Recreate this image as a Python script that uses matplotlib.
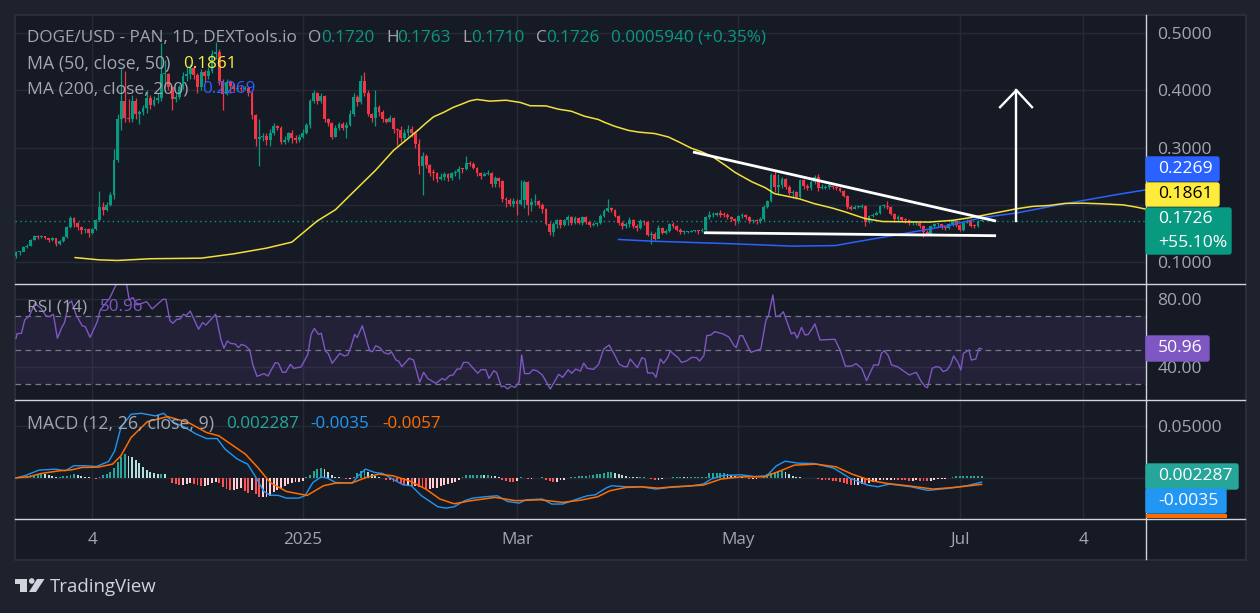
import matplotlib
matplotlib.use("Agg")
import matplotlib.pyplot as plt
from matplotlib.patches import Rectangle, FancyBboxPatch, Polygon, Circle

W, H = 1260, 613

# daily candles, first open read separately, every other open is the previous close
first_open = 0.110
closes = [
    .1175, .118, .126, .129, .139, .145, .144, .145, .1425, .139,
    .142, .131, .137, .144, .161, .1775, .168, .161, .1565, .158,
    .151, .158, .173, .197, .1915, .200, .218, .278, .350, .381,
    .352, .350, .381, .359, .362, .369, .386, .375, .383, .387,
    .428, .428, .405, .385, .388, .405, .425, .428, .438, .427,
    .405, .431, .425, .434, .463, .467, .417, .394, .415, .408,
    .402, .404, .402, .404, .395, .356, .315, .318, .320, .314,
    .326, .338, .335, .310, .313, .325, .316, .313, .319, .325,
    .339, .381, .395, .381, .390, .350, .343, .319, .335, .341,
    .335, .340, .359, .388, .379, .416, .396, .358, .352, .370,
    .362, .349, .345, .352, .332, .330, .317, .325, .333, .325,
    .307, .267, .285, .270, .256, .255, .246, .248, .254, .247,
    .255, .257, .263, .262, .273, .272, .265, .256, .250, .254,
    .256, .237, .247, .241, .210, .208, .202, .206, .201, .208,
    .240, .199, .205, .207, .199, .193, .167, .152, .166, .173,
    .165, .173, .178, .169, .177, .169, .178, .170, .165, .167,
    .169, .181, .190, .195, .191, .180, .168, .164, .166, .174,
    .164, .160, .172, .170, .148, .150, .141, .160, .151, .154,
    .167, .163, .157, .152, .152, .153, .155, .155, .154, .157,
    .179, .182, .183, .185, .183, .182, .178, .175, .171, .180,
    .182, .179, .172, .172, .171, .175, .197, .206, .252, .231,
    .235, .245, .231, .220, .222, .214, .243, .233, .230, .240,
    .248, .229, .230, .232, .232, .231, .230, .225, .216, .196,
    .193, .196, .197, .198, .170, .181, .182, .186, .198, .198,
    .196, .184, .175, .179, .174, .173, .168, .168, .168, .163,
    .153, .150, .164, .166, .166, .161, .160, .167, .172, .165,
    .157, .169, .172, .164, .163, .172, .1726,
]
highs = [
    .119, .120, .128, .131, .141, .147, .147, .148, .146, .142,
    .144, .143, .139, .146, .163, .180, .178, .170, .163, .160,
    .160, .160, .175, .224, .205, .205, .222, .297, .358, .438,
    .434, .385, .392, .386, .366, .375, .400, .392, .390, .395,
    .482, .453, .430, .407, .395, .410, .432, .440, .445, .442,
    .430, .437, .436, .440, .470, .485, .472, .420, .420, .418,
    .412, .410, .408, .408, .408, .398, .358, .349, .325, .326,
    .332, .342, .340, .338, .320, .328, .330, .322, .324, .332,
    .342, .385, .400, .397, .395, .392, .352, .345, .340, .345,
    .345, .345, .365, .395, .392, .426, .432, .400, .360, .401,
    .375, .366, .352, .356, .354, .335, .338, .332, .340, .338,
    .327, .315, .292, .288, .272, .262, .258, .256, .258, .256,
    .258, .260, .268, .265, .286, .276, .275, .266, .258, .257,
    .260, .258, .250, .248, .244, .214, .212, .212, .210, .243,
    .243, .242, .212, .219, .209, .204, .195, .170, .170, .176,
    .176, .176, .182, .180, .180, .178, .181, .180, .172, .170,
    .170, .184, .193, .210, .197, .193, .182, .172, .170, .178,
    .176, .166, .175, .174, .172, .155, .152, .165, .162, .158,
    .169, .170, .165, .160, .156, .155, .157, .157, .157, .160,
    .180, .189, .187, .187, .191, .187, .185, .180, .177, .183,
    .185, .184, .180, .175, .175, .178, .199, .208, .256, .260,
    .253, .248, .247, .234, .226, .224, .245, .245, .236, .243,
    .252, .254, .236, .235, .236, .234, .233, .232, .226, .218,
    .200, .199, .200, .201, .200, .183, .185, .190, .199, .201,
    .207, .198, .186, .182, .179, .177, .175, .170, .170, .170,
    .165, .156, .165, .168, .168, .167, .163, .168, .174, .174,
    .167, .170, .175, .174, .166, .173, .1763,
]
lows = [
    .108, .113, .120, .125, .129, .138, .141, .142, .140, .136,
    .137, .129, .130, .135, .143, .159, .161, .156, .150, .151,
    .144, .149, .156, .171, .182, .190, .198, .210, .275, .330,
    .345, .345, .345, .349, .341, .357, .360, .368, .372, .378,
    .382, .405, .400, .366, .380, .385, .402, .416, .420, .420,
    .395, .400, .415, .420, .430, .455, .410, .366, .392, .395,
    .398, .398, .398, .400, .390, .350, .302, .267, .312, .305,
    .302, .322, .330, .306, .306, .310, .308, .308, .310, .316,
    .323, .335, .378, .376, .378, .345, .338, .315, .318, .330,
    .330, .317, .338, .355, .372, .376, .390, .355, .345, .337,
    .355, .345, .342, .344, .325, .305, .310, .312, .320, .318,
    .300, .253, .218, .265, .250, .244, .240, .243, .243, .241,
    .244, .251, .245, .256, .260, .268, .262, .250, .245, .250,
    .252, .232, .232, .231, .205, .197, .198, .197, .182, .200,
    .195, .183, .190, .200, .195, .186, .165, .148, .145, .160,
    .160, .163, .165, .165, .166, .166, .165, .167, .162, .163,
    .163, .166, .178, .187, .187, .178, .165, .158, .160, .162,
    .160, .155, .158, .165, .145, .131, .138, .144, .149, .150,
    .153, .160, .155, .150, .150, .151, .152, .153, .150, .152,
    .155, .175, .178, .181, .178, .178, .175, .172, .165, .168,
    .177, .175, .168, .168, .167, .168, .173, .194, .205, .222,
    .218, .230, .228, .218, .212, .210, .212, .228, .226, .226,
    .236, .225, .227, .228, .228, .228, .226, .222, .214, .193,
    .191, .192, .194, .195, .164, .168, .178, .183, .184, .195,
    .193, .182, .170, .172, .172, .168, .165, .165, .165, .160,
    .144, .147, .148, .162, .162, .158, .156, .158, .164, .162,
    .155, .155, .168, .161, .160, .162, .1710,
]
assert len(closes) == len(highs) == len(lows) == 267

ma50_days = [16.3, 23, 28, 37, 51, 60, 69, 76, 83, 88, 92, 99, 104, 110.7, 113, 115, 118, 120.4, 122.7, 125, 127,
             130.5, 135, 139, 141.6, 146, 149.4, 153, 156.6, 160.4, 162.3, 165, 168.7, 171.5, 176, 179.7, 182.6,
             186, 189, 192, 195.4, 198, 200, 202.8, 206.4, 209, 215.7, 220, 224.9, 228.6, 231.3, 234, 238.7, 244.2,
             251.6, 258, 262.7, 266.3, 271, 275.5, 280, 284.7, 289, 294, 298.6, 305, 308.7, 312]
ma50_values = [.108, .104, .103, .106, .107, .1146, .1245, .135, .172, .1915, .2166, .26, .295, .330, .343, .3535,
               .362, .370, .3756, .3815, .384, .381, .3826, .3786, .373, .3727, .367, .3634, .3547, .349, .3436,
               .337, .330, .327, .3244, .3185, .3098, .299, .2923, .2836, .269, .257, .2498, .24, .23, .2195,
               .2107, .202, .1944, .1874, .1816, .176, .171, .1705, .170, .173, .1775, .1816, .1874, .193, .1973,
               .199, .2026, .203, .202, .200, .196, .1915]
assert len(ma50_days) == len(ma50_values)
ma200_days = [166, 175, 198, 213.8, 225.7, 231, 243, 257, 266, 275.5, 289, 303, 312]
ma200_values = [.1396, .1367, .132, .128, .129, .135, .148, .164, .1775, .1857, .202, .2177, .227]

rsi_days = [0, .3, 1.5, 2.4, 3.7, 5.2, 6.9, 8.2, 9.1, 10.3, 11.4, 12.5, 13.4, 14.5, 15.3, 16.5, 18.2, 19.1, 20.4,
            22.4, 23.2, 25.8, 28.1, 30.3, 31.2, 32.2, 33.4, 36, 37.5, 40.5, 41.3, 42.4, 43.2, 44.3, 45.2, 46.1,
            46.9, 48, 50.3, 51.4, 52.3, 55, 56.5, 57.3, 58.2, 59.1, 60.4, 61.3, 62.1, 63.2, 64.4, 65.2, 66.4,
            68.3, 69.4, 71.4, 72.3, 73.4, 74.3, 75.6, 76.5, 78.5, 80.4, 81.3, 82.2, 83.3, 84.1, 85.2, 86, 87.1,
            89.2, 90.5, 91.4, 92.3, 93.3, 94, 95.4, 97.4, 98.2, 99.1, 100.2, 101.4, 102.7, 103.4, 104.7, 105.4,
            106.3, 108.3, 109.5, 111.2, 112.3, 113.4, 115.7, 117.4, 118.2, 119.4, 120.4, 121.5, 122.4, 123.3,
            124.5, 127.2, 128.1, 129.4, 130.3, 131.6, 132.4, 133.7, 134.5, 135.4, 136.5, 137.4, 138.6, 139.3,
            140.1, 141.4, 142.4, 143.5, 145, 147.2, 149.5, 150.6, 152.1, 153.1, 154.2, 155.5, 156.4, 157.4,
            159.1, 160.5, 161.9, 163.4, 164.7, 166.2, 167.5, 168.4, 169.2, 171.2, 172.4, 173.3, 174, 175.5,
            176.3, 177.5, 178.4, 179.5, 180.3, 181.4, 182.4, 183.3, 184.7, 186.2, 187.5, 188.3, 189.5, 190.3,
            191.4, 192.5, 194.8, 196.4, 197.7, 198.4, 199.4, 200.2, 202.4, 205.2, 206.6, 207.3, 208.5, 209.3,
            210.4, 211.4, 213.6, 214.4, 215.2, 216.4, 217.4, 218.3, 220.1, 221.5, 225.6, 227, 228.5, 230.3,
            231.4, 233, 234.3, 236.3, 237.6, 238.4, 239.2, 240.3, 241.2, 242.8, 246.1, 248, 249.4, 250.5, 251.1,
            252.4, 253.4, 254.5, 255.4, 256.5, 257.5, 258.3, 259.5, 260.3, 261, 262.5, 263.2, 264.4, 265.3, 266]
rsi_values = [57.1, 59.8, 60, 67.8, 70.4, 77.6, 74.7, 70.4, 69.8, 71.2, 57.1, 62.9, 66.5, 77.6, 79, 71.2, 64.5, 63.9,
              57.6, 66.9, 73.7, 80.6, 91, 91, 79.6, 81, 76.7, 78.6, 74.3, 80, 80, 67.5, 65.9, 68.2, 68.4, 71.2,
              70.4, 73.1, 62.4, 66.3, 64.9, 71.2, 56.1, 51.2, 55.5, 54.1, 53.7, 51.6, 53.5, 52.7, 50.2, 41.8, 34.7,
              36.3, 34.9, 42.7, 42.4, 37.1, 37.1, 41.8, 39.4, 40.2, 47.6, 59.4, 62.9, 59.4, 60, 49.6, 48.2, 42.4,
              48.2, 46.7, 47.3, 52.2, 59.4, 57.5, 64.5, 49.8, 49.2, 52.7, 51.6, 48.6, 47.8, 49.2, 44.3, 43.7,
              40.4, 45.3, 44.3, 31.2, 37.1, 33.5, 30.6, 33.5, 32.5, 35.1, 35.5, 39, 39, 42.9,
              42.9, 36.5, 38.6, 38.6, 33.5, 38, 36.9, 28.6, 29, 27.3, 29, 28.2, 31.2, 47.3,
              36.3, 36.3, 38.6, 38, 35.5, 27.3, 35.9, 34.1, 38.6, 36.5, 39, 37.8, 42.5, 39.4,
              38.8, 41.8, 50.8, 53.1, 48.2, 41.8, 40.4, 40.4, 44.9, 39.8, 45.7, 44.9, 36.7, 36.7,
              34.1, 44.9, 42.4, 45.7, 49.6, 47.3, 45.7, 42.9, 43.7, 45.9, 45.7, 43.7, 46.9, 58.6,
              59, 61, 59.6, 57.8, 53.1, 51.6, 58.6, 58.6, 48.8, 50.8, 67.8, 70.4, 82.5, 69.8,
              70.4, 72.7, 59.6, 60.6, 57.1, 63.5, 59, 59.4, 65.5, 56.1, 56.5, 50.2, 40.6, 40.8,
              42.2, 39.4, 32.2, 41.4, 41.4, 48.2, 49.8, 46.9, 41.4, 40.4, 35.5, 37.1, 31.6, 28.6, 28,
              39.4, 40.4, 40, 37.5, 38.4, 41.8, 46.7, 42.9, 38.4, 48.2, 50.2, 44.3, 44.9, 51.2, 50.96]
assert len(rsi_days) == len(rsi_values)

macd_days = [0, 2.4, 6.3, 10.8, 13.6, 15.9, 19.3, 22.1, 25.5, 27.2, 28.9, 31.7, 34.5, 38.4, 40.7, 43, 46.3, 49.7,
             52.5, 55.4, 57.6, 61, 63.8, 66.1, 68.3, 70, 72.3, 74.5, 77.9, 79.6, 81.8, 84.1, 85.8, 88, 92.6, 94.3,
             96.3, 98.8, 101, 103.8, 106.6, 108.9, 111.7, 116.2, 118.5, 120.7, 123.6, 125.8, 129.2, 132.6, 135.4,
             138.6, 140.5, 145, 147.6, 150.6, 154.6, 157.4, 159.6, 162.5, 164.1, 168.1, 172.4, 176.2, 180, 185.5,
             189.3, 191.5, 194.8, 199.7, 203.5, 206.8, 209.5, 211.9, 215.5, 219.9, 225.3, 229.7, 234.6, 237.4,
             240.6, 246.6, 251.2, 256.5, 261.9, 266]
macd_values = [.0006, .0026, .008, .009, .0074, .0122, .0122, .0115, .0163, .0266, .049, .0618, .0627, .0602, .0627,
               .0547, .0496, .0426, .0384, .0384, .0282, .0186, .0138, .001, -.0125, -.016, -.0163, -.0189, -.0189,
               -.0166, -.0038, .0016, .0003, -.0038, -.0045, .0026, .009, .0058, .0048, -.0006, -.0061, -.007,
               -.0166, -.0272, -.0285, -.0272, -.0214, -.0189, -.0176, -.0166, -.0221, -.0237, -.0205, -.0198,
               -.0246, -.0246, -.0198, -.0166, -.0157, -.0093, -.007, -.008, -.008, -.0102, -.0086, -.0074, -.0054,
               -.0006, .0029, .0035, .0019, .0026, .0122, .0166, .0147, .0144, .0099, .0003, -.0064, -.008, -.0054,
               -.008, -.0115, -.0096, -.007, -.0035]
signal_days = [0, 3.5, 6.9, 12, 15.3, 18.2, 22.7, 26.6, 28.9, 31.7, 36.2, 41.8, 47.5, 52.5, 55.9, 63.2, 66.6, 70,
               74.5, 80.2, 84.7, 88, 92.6, 96.5, 99.9, 103.8, 108.3, 112.9, 116.8, 120.7, 125.3, 132, 137.7, 144.4,
               150.6, 155.7, 160.2, 163.6, 168.1, 172.4, 176.8, 181.1, 189.3, 194.2, 199.7, 206.2, 210.6, 214.4,
               220.4, 225.9, 230.3, 235.7, 240.1, 246.6, 252.6, 258.6, 266]
signal_values = [.0006, .0016, .0048, .0074, .0083, .0106, .0109, .0138, .0218, .0394, .0547, .0595, .0538, .0442,
                 .041, .0234, .0106, -.0038, -.0125, -.0163, -.007, -.0045, -.0042, .001, .0042, .0026, -.0022,
                 -.0102, -.0198, -.0243, -.0214, -.0182, -.0214, -.0205, -.023, -.0208, -.0176, -.0118, -.0086,
                 -.008, -.0093, -.008, -.0064, -.0006, .0016, .0016, .0074, .0128, .0138, .0112, .0042, -.0022,
                 -.0048, -.0074, -.0102, -.0086, -.0057]
assert len(macd_days) == len(macd_values) and len(signal_days) == len(signal_values)

# histogram per day, in thousandths
hist_milli = [
    1, 1, 1.5, 2, 3, 3.5, 4.5, 4.5, 4, 3,
    2.5, 1.5, 1.5, 2, 2.5, 3.5, 4, 3, 2, 1.5,
    1, .3, -.5, 1, 3, 4, 6, 10, 16, 21,
    24, 22, 21, 18, 15, 11, 8, 6.5, 5, 4.5,
    4.5, 4, .3, -4, -5, -6.5, -6, -5, -4.5, -5,
    -6, -7.5, -7, -6, -4, -3, -4, -8, -10, -11,
    -11, -10, -9, -12, -14, -11, -15, -18, -18, -18,
    -17, -13, -11, -9, -7, -5, -4, -3, -3, -2,
    1, 3, 7, 9, 10, 9, 6, 3, 1.5, 1,
    .5, -.5, -.5, 1, 5, 7, 9, 6, 4, 2.5,
    1.5, .8, -1, -1.5, -3, -3.5, -5, -6, -6, -7.5,
    -7, -8, -9, -10, -10, -9, -9, -7, -6, -5,
    -4, -3, -1.5, 1, 3, 3.5, 3.5, 3.5, 3.5, 3,
    3, 2.5, 2, 1, -1, -2.5, -3, -3.5, -2, 1,
    .5, -.5, -.5, .5, .5, 1.5, -1, -2, -3, -3,
    -1.5, -1, .5, 1, 1.5, 2, 2.5, 2.5, 3, 3,
    4, 4.5, 5.5, 6, 6, 5, 4, 3, 2, 1.5,
    1.2, 1, 1, 1, .5, -.5, -1, -1, -.8, .3,
    .5, 1.5, 1.5, 1.5, 1.2, 1, 1, 1, 1, 1,
    1.5, 5, 5, 5, 5, 5, 4, 3, 2, 1.5,
    1, .7, -.4, -.4, -.3, .3, 2, 4, 5, 6,
    7, 7, 6, 4, 2.5, 1.5, 1, .7, .5, .5,
    .5, -.5, -1, -1.2, -1.8, -2, -2.5, -3, -4, -5,
    -6, -6, -6, -5, -5.5, -4.5, -3, -2, -1.5, -1,
    -1, -1, -1, -1.2, -1.4, -1.6, -2, -2, -1.8, -2,
    -2.2, -2.4, -2, -1.5, -.5, -.4, -.3, .8, 1, 2,
    2, 2, 2, 2, 2, 2, 2.287,
]
assert len(hist_milli) == len(closes)

trend_top_days = [186.5, 270]
trend_top_prices = [.2923, .1717]
trend_low_days = [189.5, 270]
trend_low_prices = [.1514, .1462]
arrow_shaft_days = [275.6, 275.6]
arrow_shaft_prices = [.1712, .400]
arrow_head_days = [271.1, 275.6, 279.9]
arrow_head_prices = [.3705, .400, .3705]

price_ticks = [.1, .2, .3, .4, .5]
price_tick_labels = ["0.1000", "", "0.3000", "0.4000", "0.5000"]
time_ticks = [21, 79, 138, 199, 260, 294]
time_tick_labels = ["4", "2025", "Mar", "May", "Jul", "4"]

OUTER = "#1E222D"
PANE = "#161A25"
GRID = "#262A36"
SEP = "#D1D4DC"
AXTXT = "#A3A6AF"
LEG = "#A3A6AF"
UP = "#089981"
DOWN = "#F23645"
YELLOW = "#FFEB3B"
BLUE = "#2962FF"
PURPLE = "#7E57C2"
MACD_BLUE = "#2196F3"
MACD_ORANGE = "#FF6D00"
FONT = "Open Sans"

plt.rcParams["font.family"] = [FONT, "DejaVu Sans"]

fig = plt.figure(figsize=(W / 100, H / 100), dpi=100, facecolor=OUTER)


def px_axes(x0, y0, x1, y1, z):
    return fig.add_axes([x0 / W, 1 - y1 / H, (x1 - x0) / W, (y1 - y0) / H], zorder=z)


bg = px_axes(0, 0, W, H, 0)
bg.set_xlim(0, W)
bg.set_ylim(H, 0)
bg.axis("off")
bg.add_patch(Rectangle((14.5, 14.5), 1231, 545, facecolor=PANE, edgecolor="#2A2E39", lw=1.5))

ax_price = px_axes(15, 15, 1146, 283.5, 1)
ax_rsi = px_axes(15, 284, 1146, 400, 1)
ax_macd = px_axes(15, 400.5, 1146, 518.5, 1)

for ax in [ax_price, ax_rsi, ax_macd]:
    ax.set_facecolor("none")
    ax.set_xlim(-.275, 311.3)
    ax.yaxis.tick_right()
    ax.grid(True, color=GRID, lw=1)
    ax.set_axisbelow(True)
    ax.set_xticks(time_ticks)
    ax.tick_params(length=0, colors=AXTXT, labelsize=12.6, pad=8.3)
    ax.tick_params(axis="x", labelbottom=False, labelsize=12.3, pad=9.5)
    for s in ax.spines.values():
        s.set_visible(False)

# price pane
ax_price.set_ylim(.0628, .5313)
ax_price.set_yticks(price_ticks, price_tick_labels)
ax_price.axhline(closes[-1], color=UP, lw=1, ls=(0, (1, 2.5)))

days = list(range(len(closes)))
opens = [first_open] + closes[:-1]
colors = [UP if c >= o else DOWN for o, c in zip(opens, closes)]
ax_price.vlines(days, lows, highs, colors=colors, lw=.9, zorder=3)
bottoms = [min(o, c) for o, c in zip(opens, closes)]
heights = [max(abs(c - o), .0018) for o, c in zip(opens, closes)]
ax_price.bar(days, heights, bottom=bottoms, width=.78, color=colors, lw=0, zorder=3)

ax_price.plot(ma200_days, ma200_values, color=BLUE, lw=1.1, zorder=4)
ax_price.plot(ma50_days, ma50_values, color="#F2E03C", lw=1.1, zorder=4)
ax_price.plot(trend_top_days, trend_top_prices, color="white", lw=2, zorder=5, solid_capstyle="butt")
ax_price.plot(trend_low_days, trend_low_prices, color="white", lw=2, zorder=5, solid_capstyle="butt")
ax_price.plot(arrow_shaft_days, arrow_shaft_prices, color="white", lw=1.7, zorder=5)
ax_price.plot(arrow_head_days, arrow_head_prices, color="white", lw=1.7, zorder=5)

# rsi pane
ax_rsi.set_ylim(20.8, 89)
ax_rsi.set_yticks([40, 80], ["40.00", "80.00"])
ax_rsi.axhspan(30, 70, color=PURPLE, alpha=.12, lw=0)
for level in [70, 50, 30]:
    ax_rsi.axhline(level, color="#787B86", lw=.9, ls=(0, (4.5, 3.5)))
ax_rsi.plot(rsi_days, rsi_values, color=PURPLE, lw=1)

# macd pane
ax_macd.set_ylim(-.0385, .075)
ax_macd.set_yticks([0, .05], ["", "0.05000"])
bar_colors = []
for i, v in enumerate(hist_milli):
    prev = hist_milli[i - 1] if i else 0
    if v >= 0:
        bar_colors.append("#26A69A" if v >= prev else "#B2DFDB")
    else:
        bar_colors.append("#FF5252" if v < prev else "#FFCDD2")
ax_macd.bar(days, [v / 1000 for v in hist_milli], width=.52, color=bar_colors, lw=0, zorder=2)
ax_macd.plot(macd_days, macd_values, color=MACD_BLUE, lw=1, zorder=3)
ax_macd.plot(signal_days, signal_values, color=MACD_ORANGE, lw=1.1, zorder=3)
ax_macd.set_xticks(time_ticks, time_tick_labels)
ax_macd.tick_params(axis="x", labelbottom=True)

# overlay with separators, legend texts, price tags, logo
top = px_axes(0, 0, W, H, 5)
top.set_xlim(0, W)
top.set_ylim(H, 0)
top.axis("off")
top.patch.set_alpha(0)

for y in [283.5, 400, 518.5]:
    top.plot([15, 1245], [y, y], color=SEP, lw=1)
top.plot([1146, 1146], [15, 559], color=SEP, lw=1)


def leg(x, y, s, color=LEG, size=12.3):
    top.text(x, y, s, color=color, fontsize=size, va="center", ha="left")


leg(27, 38, "DOGE/USD - PAN, 1D, DEXTools.io")
leg(308, 38, "O")
leg(321, 38, "0.1720", UP)
leg(386, 38, "H")
leg(397, 38, "0.1763", UP)
leg(462, 38, "L")
leg(471, 38, "0.1710", UP)
leg(536, 38, "C")
leg(546, 38, "0.1726", UP)
leg(611, 38, "0.0005940 (+0.35%)", UP)
leg(27, 64, "MA (50, close, 50)", size=12.8)
leg(183, 64, "0.1861", YELLOW)
leg(27, 89, "MA (200, close, 200)", size=12.6)
leg(202, 89, "0.2269", BLUE)
leg(27, 307, "RSI (14)", size=12.5)
leg(100, 307, "50.96", PURPLE)
leg(27, 424, "MACD (12, 26, close, 9)", size=12.8)
leg(226, 424, "0.002287", "#26A69A")
leg(310, 424, "-0.0035", MACD_BLUE)
leg(382, 424, "-0.0057", MACD_ORANGE)


def tag(y0, y1, x1, color, lines, text_color="white"):
    top.add_patch(FancyBboxPatch((1146, y0 + 1), x1 - 1147, y1 - y0 - 2, boxstyle="round,pad=0,rounding_size=2",
                                 facecolor=color, edgecolor=color, lw=1, zorder=6))
    step = (y1 - y0) / len(lines)
    for k, s in enumerate(lines):
        top.text(1158, y0 + step * (k + .5), s, color=text_color, fontsize=12.6, va="center", ha="left", zorder=7)


tag(156, 182, 1220, BLUE, ["0.2269"])
tag(182, 207, 1220, YELLOW, ["0.1861"], "black")
tag(207, 255, 1232, UP, ["0.1726", "+55.10%"])
tag(335, 362, 1210, PURPLE, ["50.96"])
tag(463, 490, 1239, "#26A69A", ["0.002287"])
tag(488, 514, 1227, MACD_BLUE, ["-0.0035"])
top.add_patch(Rectangle((1146, 514), 81, 4, facecolor=MACD_ORANGE, lw=0, zorder=6))

# logo
top.add_patch(Polygon([(15, 579), (27, 579), (27, 592), (20, 592), (20, 584), (15, 584)], facecolor=SEP, lw=0))
top.add_patch(Circle((31.7, 581), 2.8, facecolor=SEP, lw=0))
top.add_patch(Polygon([(37, 579), (44.5, 579), (36, 592), (29, 592)], facecolor=SEP, lw=0))
top.text(50, 587, "TradingView", color=SEP, fontsize=13.4, va="center", ha="left")

fig.savefig("out.png", dpi=100, facecolor=OUTER)
